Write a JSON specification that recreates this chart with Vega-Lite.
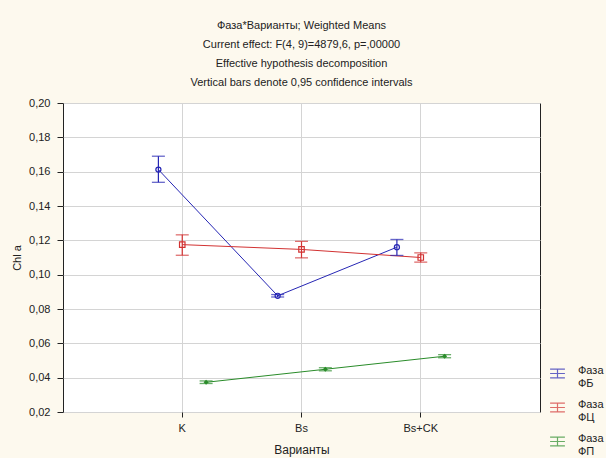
{
  "$schema": "https://vega.github.io/schema/vega-lite/v6.json",
  "width": 477,
  "height": 309,
  "autosize": {"type": "none"},
  "padding": {"left": 63, "top": 103, "right": 66, "bottom": 46},
  "background": "#fdf9ee",
  "title": {
    "text": [
      "Фаза*Варианты; Weighted Means",
      "Current effect: F(4, 9)=4879,6, p=,00000",
      "Effective hypothesis decomposition",
      "Vertical bars denote 0,95 confidence intervals"
    ],
    "font": "Liberation Sans",
    "fontSize": 11,
    "fontWeight": "normal",
    "lineHeight": 19,
    "anchor": "middle",
    "offset": 9,
    "color": "#222222"
  },
  "data": {
    "values": [
      {"variant": "K", "phase": "ФБ", "mean": 0.1612, "lo": 0.1538, "hi": 0.1690},
      {"variant": "Bs", "phase": "ФБ", "mean": 0.0877, "lo": 0.0870, "hi": 0.0884},
      {"variant": "Bs+CK", "phase": "ФБ", "mean": 0.1160, "lo": 0.1112, "hi": 0.1205},
      {"variant": "K", "phase": "ФЦ", "mean": 0.1175, "lo": 0.1113, "hi": 0.1232},
      {"variant": "Bs", "phase": "ФЦ", "mean": 0.1147, "lo": 0.1098, "hi": 0.1194},
      {"variant": "Bs+CK", "phase": "ФЦ", "mean": 0.1100, "lo": 0.1073, "hi": 0.1127},
      {"variant": "K", "phase": "ФП", "mean": 0.0373, "lo": 0.0366, "hi": 0.0381},
      {"variant": "Bs", "phase": "ФП", "mean": 0.0449, "lo": 0.0440, "hi": 0.0458},
      {"variant": "Bs+CK", "phase": "ФП", "mean": 0.0525, "lo": 0.0516, "hi": 0.0534}
    ]
  },
  "encoding": {
    "x": {
      "field": "variant",
      "type": "nominal",
      "sort": ["K", "Bs", "Bs+CK"],
      "scale": {"paddingInner": 0, "paddingOuter": 0.5},
      "axis": {
        "title": "Варианты",
        "titleFontSize": 12,
        "labelAngle": 0,
        "bandPosition": 0.5,
        "grid": true,
        "domain": false,
        "tickSize": 5,
        "labelPadding": 5,
        "titlePadding": 11
      }
    },
    "xOffset": {
      "field": "phase",
      "type": "nominal",
      "sort": ["ФБ", "ФЦ", "ФП"],
      "scale": {"paddingInner": 0, "paddingOuter": 1.72}
    },
    "color": {
      "field": "phase",
      "type": "nominal",
      "sort": ["ФБ", "ФЦ", "ФП"],
      "scale": {"domain": ["ФБ", "ФЦ", "ФП"], "range": ["#2626b4", "#d23232", "#2a8c2a"]},
      "legend": {
        "title": null,
        "orient": "none",
        "legendX": 486,
        "legendY": 262,
        "symbolType": "M-1,-0.6H1M-1,0.6H1M0,-0.6V0.6M-1,0H1",
        "symbolSize": 220,
        "symbolStrokeWidth": 1.2,
        "symbolFillColor": "transparent",
        "labelExpr": "['Фаза', datum.label]",
        "labelBaseline": "alphabetic",
        "labelFontSize": 11,
        "labelFont": "Liberation Sans",
        "labelColor": "#222222",
        "labelLimit": 200,
        "labelOffset": 12,
        "rowPadding": 9
      }
    }
  },
  "layer": [
    {
      "mark": {"type": "line", "strokeWidth": 1},
      "encoding": {
        "y": {
          "field": "mean",
          "type": "quantitative",
          "scale": {"domain": [0.02, 0.2], "nice": false, "zero": false},
          "axis": {
            "title": "Chl a",
            "values": [0.02, 0.04, 0.06, 0.08, 0.1, 0.12, 0.14, 0.16, 0.18, 0.2],
            "labelExpr": "replace(format(datum.value, '.2f'), '.', ',')",
            "labelOverlap": false,
            "labelFlush": false,
            "grid": true,
            "domain": false,
            "tickSize": 6,
            "labelPadding": 7,
            "titlePadding": 6
          }
        }
      }
    },
    {
      "mark": {"type": "rule", "strokeWidth": 1.2},
      "encoding": {
        "y": {
          "field": "lo",
          "type": "quantitative",
          "axis": {
            "title": "Chl a",
            "values": [0.02, 0.04, 0.06, 0.08, 0.1, 0.12, 0.14, 0.16, 0.18, 0.2],
            "labelExpr": "replace(format(datum.value, '.2f'), '.', ',')",
            "labelOverlap": false,
            "labelFlush": false,
            "grid": true,
            "domain": false,
            "tickSize": 6,
            "labelPadding": 7,
            "titlePadding": 6
          }
        },
        "y2": {"field": "hi"}
      }
    },
    {
      "mark": {"type": "tick", "size": 13, "thickness": 1.3},
      "encoding": {
        "y": {
          "field": "lo",
          "type": "quantitative",
          "axis": {
            "title": "Chl a",
            "values": [0.02, 0.04, 0.06, 0.08, 0.1, 0.12, 0.14, 0.16, 0.18, 0.2],
            "labelExpr": "replace(format(datum.value, '.2f'), '.', ',')",
            "labelOverlap": false,
            "labelFlush": false,
            "grid": true,
            "domain": false,
            "tickSize": 6,
            "labelPadding": 7,
            "titlePadding": 6
          }
        }
      }
    },
    {
      "mark": {"type": "tick", "size": 13, "thickness": 1.3},
      "encoding": {
        "y": {
          "field": "hi",
          "type": "quantitative",
          "axis": {
            "title": "Chl a",
            "values": [0.02, 0.04, 0.06, 0.08, 0.1, 0.12, 0.14, 0.16, 0.18, 0.2],
            "labelExpr": "replace(format(datum.value, '.2f'), '.', ',')",
            "labelOverlap": false,
            "labelFlush": false,
            "grid": true,
            "domain": false,
            "tickSize": 6,
            "labelPadding": 7,
            "titlePadding": 6
          }
        }
      }
    },
    {
      "transform": [{"filter": "datum.phase == 'ФБ'"}],
      "mark": {"type": "point", "shape": "circle", "filled": false, "size": 26, "strokeWidth": 1.2, "opacity": 1},
      "encoding": {
        "y": {
          "field": "mean",
          "type": "quantitative",
          "axis": {
            "title": "Chl a",
            "values": [0.02, 0.04, 0.06, 0.08, 0.1, 0.12, 0.14, 0.16, 0.18, 0.2],
            "labelExpr": "replace(format(datum.value, '.2f'), '.', ',')",
            "labelOverlap": false,
            "labelFlush": false,
            "grid": true,
            "domain": false,
            "tickSize": 6,
            "labelPadding": 7,
            "titlePadding": 6
          }
        }
      }
    },
    {
      "transform": [{"filter": "datum.phase == 'ФЦ'"}],
      "mark": {"type": "point", "shape": "square", "filled": false, "size": 30, "strokeWidth": 1.2, "opacity": 1},
      "encoding": {
        "y": {
          "field": "mean",
          "type": "quantitative",
          "axis": {
            "title": "Chl a",
            "values": [0.02, 0.04, 0.06, 0.08, 0.1, 0.12, 0.14, 0.16, 0.18, 0.2],
            "labelExpr": "replace(format(datum.value, '.2f'), '.', ',')",
            "labelOverlap": false,
            "labelFlush": false,
            "grid": true,
            "domain": false,
            "tickSize": 6,
            "labelPadding": 7,
            "titlePadding": 6
          }
        }
      }
    },
    {
      "transform": [{"filter": "datum.phase == 'ФП'"}],
      "mark": {"type": "point", "shape": "diamond", "filled": true, "size": 26, "opacity": 1},
      "encoding": {
        "y": {
          "field": "mean",
          "type": "quantitative",
          "axis": {
            "title": "Chl a",
            "values": [0.02, 0.04, 0.06, 0.08, 0.1, 0.12, 0.14, 0.16, 0.18, 0.2],
            "labelExpr": "replace(format(datum.value, '.2f'), '.', ',')",
            "labelOverlap": false,
            "labelFlush": false,
            "grid": true,
            "domain": false,
            "tickSize": 6,
            "labelPadding": 7,
            "titlePadding": 6
          }
        }
      }
    }
  ],
  "config": {
    "font": "Liberation Sans",
    "view": {"fill": "white", "stroke": "#222222", "strokeWidth": 1},
    "axis": {
      "labelFont": "Liberation Sans",
      "labelFontSize": 11,
      "labelColor": "#222222",
      "titleFont": "Liberation Sans",
      "titleFontSize": 11,
      "titleFontWeight": "normal",
      "titleColor": "#222222",
      "tickColor": "#222222",
      "gridColor": "#d4d4d4",
      "gridWidth": 1
    }
  }
}
